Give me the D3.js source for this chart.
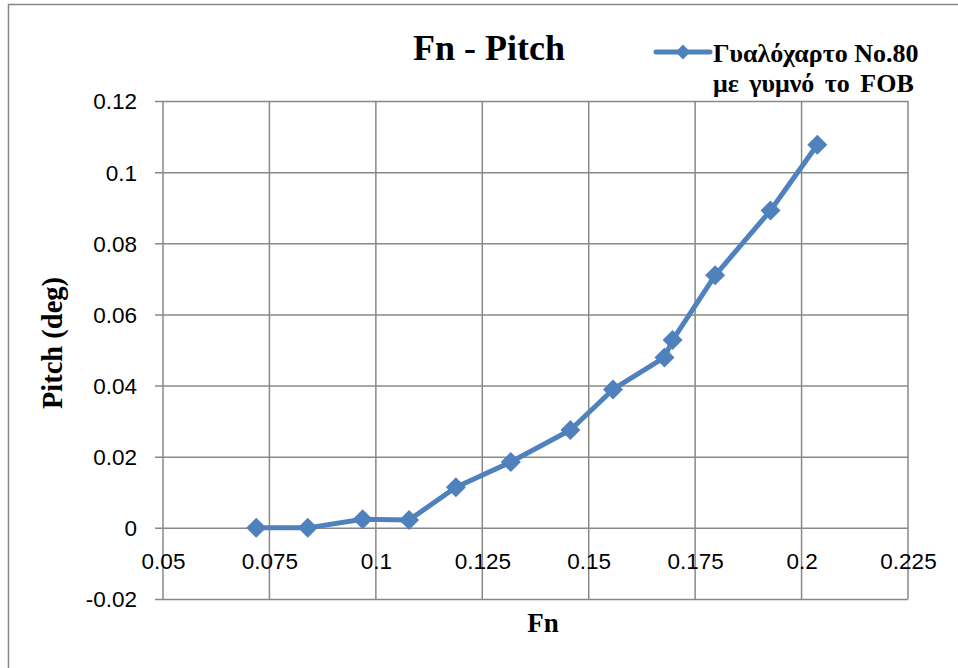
<!DOCTYPE html>
<html>
<head>
<meta charset="utf-8">
<title>Fn - Pitch</title>
<script src="https://cdn.jsdelivr.net/npm/d3@7"></script>
<style>
  body { margin: 0; background: #fff; }
  svg { display: block; }
</style>
</head>
<body>
<script>
// Data
var fnValues = [0.0719, 0.0840, 0.0969, 0.1078, 0.1188, 0.1317, 0.1457, 0.1557, 0.1678, 0.1697, 0.1797, 0.1927, 0.2037];
var pitchValues = [0.0000, 0.0000, 0.0024, 0.0022, 0.0114, 0.0185, 0.0275, 0.0389, 0.0479, 0.0528, 0.0710, 0.0892, 0.1077];
var xTicks = [0.05, 0.075, 0.1, 0.125, 0.15, 0.175, 0.2, 0.225];
var yTicks = [-0.02, 0, 0.02, 0.04, 0.06, 0.08, 0.1, 0.12];
var seriesName = ["Γυαλόχαρτο No.80", "με γυμνό το FOB"];

var svg_width = 958, svg_height = 668;
var plot_left = 163, plot_right = 908, plot_top = 101, plot_bottom = 599;
var blue = "#4F81BD", grid = "#888888";

// plain number text, hyphen for the minus sign like in the original
function fmt(d) { return String(+d.toFixed(3)); }

var svg = d3.select("body").append("svg")
    .attr("width", svg_width)
    .attr("height", svg_height);

// outer chart frame
svg.append("rect")
    .attr("x", 8.5).attr("y", 4.5)
    .attr("width", 960).attr("height", 680)
    .attr("fill", "none").attr("stroke", grid).attr("stroke-width", 1.5);

var x = d3.scaleLinear().domain([0.05, 0.225]).range([plot_left, plot_right]);
var y = d3.scaleLinear().domain([-0.02, 0.12]).range([plot_bottom, plot_top]);

// horizontal gridlines + y tick labels
var yAxis = svg.append("g")
    .attr("transform", "translate(" + plot_left + ",0)")
    .call(d3.axisLeft(y).tickValues(yTicks).tickSize(-(plot_right - plot_left)).tickPadding(26)
        .tickFormat(fmt));
yAxis.select(".domain").remove();
yAxis.selectAll(".tick line").attr("stroke", grid).attr("stroke-width", 1.5).attr("x1", -8);
yAxis.selectAll("text")
    .attr("font-family", "Liberation Sans, Arial, sans-serif")
    .attr("font-size", 22.5).attr("fill", "#000").attr("dy", "0.35em");

// vertical gridlines
svg.append("g").selectAll("line")
    .data(xTicks)
    .enter().append("line")
    .attr("x1", function(d) { return x(d); })
    .attr("x2", function(d) { return x(d); })
    .attr("y1", plot_top).attr("y2", plot_bottom)
    .attr("stroke", grid).attr("stroke-width", 1.5);

// x tick labels, placed under the zero line
var xAxis = svg.append("g")
    .attr("transform", "translate(0," + y(0) + ")")
    .call(d3.axisBottom(x).tickValues(xTicks).tickSize(0).tickPadding(25)
        .tickFormat(fmt));
xAxis.select(".domain").remove();
xAxis.selectAll("text")
    .attr("font-family", "Liberation Sans, Arial, sans-serif")
    .attr("font-size", 22.5).attr("fill", "#000");

// the line and markers
var pts = fnValues.map(function(d, i) { return [d, pitchValues[i]]; });
svg.append("path")
    .datum(pts)
    .attr("fill", "none")
    .attr("stroke", blue)
    .attr("stroke-width", 5)
    .attr("stroke-linejoin", "round")
    .attr("d", d3.line().x(function(d) { return x(d[0]); }).y(function(d) { return y(d[1]); }));

var diamond = d3.symbol().type(d3.symbolSquare).size(200);
svg.append("g").selectAll("path")
    .data(pts)
    .enter().append("path")
    .attr("d", diamond)
    .attr("fill", blue)
    .attr("transform", function(d) { return "translate(" + x(d[0]) + "," + y(d[1]) + ") rotate(45)"; });

// title
svg.append("text")
    .attr("x", 489).attr("y", 60)
    .attr("text-anchor", "middle")
    .attr("font-family", "Liberation Serif, Times New Roman, serif")
    .attr("font-weight", "bold").attr("font-size", 36)
    .text("Fn - Pitch");

// axis titles
svg.append("text")
    .attr("x", 543).attr("y", 632)
    .attr("text-anchor", "middle")
    .attr("font-family", "Liberation Serif, Times New Roman, serif")
    .attr("font-weight", "bold").attr("font-size", 27)
    .text("Fn");

svg.append("text")
    .attr("transform", "translate(62,343) rotate(-90)")
    .attr("text-anchor", "middle")
    .attr("font-family", "Liberation Serif, Times New Roman, serif")
    .attr("font-weight", "bold").attr("font-size", 28.5)
    .text("Pitch (deg)");

// legend
var legend = svg.append("g");
legend.append("line")
    .attr("x1", 656).attr("x2", 710).attr("y1", 52).attr("y2", 52)
    .attr("stroke", blue).attr("stroke-width", 5).attr("stroke-linecap", "round");
legend.append("path")
    .attr("d", d3.symbol().type(d3.symbolSquare).size(110))
    .attr("fill", blue)
    .attr("transform", "translate(683,52) rotate(45)");
legend.selectAll("text")
    .data(seriesName)
    .enter().append("text")
    .attr("x", 713)
    .attr("y", function(d, i) { return 62 + i * 30; })
    .attr("font-family", "Liberation Serif, Times New Roman, serif")
    .attr("font-weight", "bold").attr("font-size", 26)
    .attr("word-spacing", function(d, i) { return i === 0 ? 0 : 4; })
    .text(function(d) { return d; });
</script>
</body>
</html>
